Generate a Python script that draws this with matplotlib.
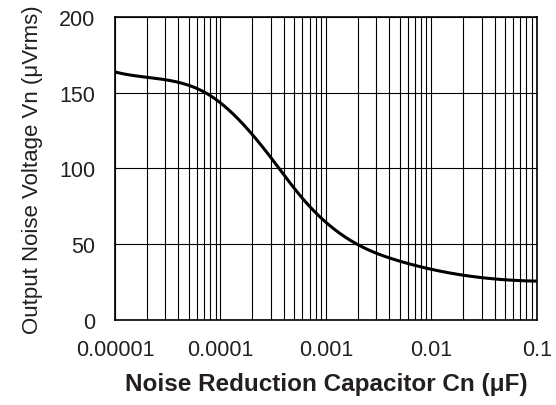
import numpy as np
import matplotlib.pyplot as plt
from scipy.interpolate import UnivariateSpline

# --- data ---
cn_uF = [1e-5, 2e-5, 3e-5, 4e-5, 5e-5, 6e-5, 7e-5, 8e-5, 1e-4, 1.23e-4,
         2e-4, 3e-4, 4e-4, 5e-4, 6e-4, 7e-4, 1e-3, 1.7e-3, 2e-3, 3e-3,
         4e-3, 5e-3, 6e-3, 1e-2, 2e-2, 3e-2, 4e-2, 0.1]
vn_uVrms = [163.7, 160.4, 158.6, 157.1, 154.9, 152.2, 149.8, 147.2, 145.0, 138.3,
            122.5, 107.5, 96.5, 87.7, 80.0, 72.9, 64.6, 53.1, 49.6, 44.7,
            41.4, 39.2, 37.0, 32.6, 29.7, 28.2, 27.1, 25.6]

x_ticks = [1e-5, 1e-4, 1e-3, 1e-2, 1e-1]
x_labels = ["0.00001", "0.0001", "0.001", "0.01", "0.1"]
y_ticks = [0, 50, 100, 150, 200]

text_color = "#231f20"
plt.rcParams["font.family"] = ["Liberation Sans", "DejaVu Sans"]

fig = plt.figure(figsize=(5.56, 4.06), dpi=100)
ax = fig.add_axes([0.2068, 0.2094, 0.7585, 0.7463])

# smooth the read-off points in log-x space
lx = np.log10(cn_uF)
lx_f = np.linspace(lx[0], lx[-1], 400)
spl = UnivariateSpline(lx, vn_uVrms, k=3, s=12)
ax.plot(10 ** lx_f, spl(lx_f), color="black", lw=2.2, solid_capstyle="butt", zorder=3)

ax.set_xscale("log")
ax.set_xlim(1e-5, 0.1)
ax.set_ylim(0, 200)
ax.set_xticks(x_ticks)
ax.set_xticklabels(x_labels)
ax.set_yticks(y_ticks)

ax.grid(True, which="both", axis="x", color="black", lw=0.8)
ax.grid(True, which="major", axis="y", color="black", lw=0.8)
ax.tick_params(which="both", length=0, labelsize=15.5, colors=text_color)
ax.tick_params(axis="x", pad=14)
ax.tick_params(axis="y", pad=14)

for s in ax.spines.values():
    s.set_linewidth(1.2)
    s.set_color("black")

ax.set_xlabel("Noise Reduction Capacitor Cn (\u03bcF)", fontsize=17.5, fontweight="bold",
              color=text_color, labelpad=8)
ax.set_ylabel("Output Noise Voltage Vn (\u03bcVrms)", fontsize=16, color=text_color,
              labelpad=12)

fig.savefig("out.png", dpi=100)
